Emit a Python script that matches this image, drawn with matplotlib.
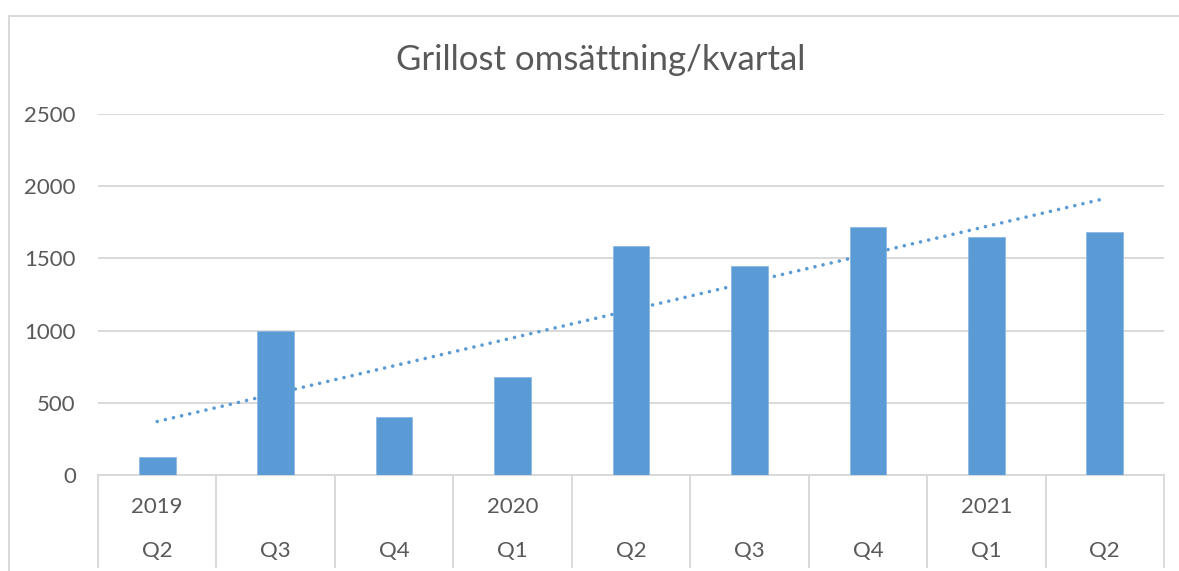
import numpy as np
import matplotlib
matplotlib.use("Agg")
import matplotlib.pyplot as plt
import matplotlib.transforms as mtrans
from matplotlib.patches import Rectangle

# data
kvartal = ['Q2', 'Q3', 'Q4', 'Q1', 'Q2', 'Q3', 'Q4', 'Q1', 'Q2']
ar = ['2019', '', '', '2020', '', '', '', '2021', '']
omsattning = [125, 995, 402, 681, 1588, 1445, 1715, 1650, 1681]

blue = '#5B9BD5'
grey_text = '#595959'
grid_col = '#D9D9D9'

plt.rcParams['font.family'] = ['Lato', 'DejaVu Sans']

fig = plt.figure(figsize=(11.79, 5.71), dpi=100)
W, H = 1179, 571
ax = fig.add_axes([98 / W, 1 - 475 / H, (1164 - 98) / W, (475 - 114) / H])

x = np.arange(len(omsattning))
ax.bar(x, omsattning, width=0.31, color=blue, edgecolor='#8DB8E2', linewidth=0.6, zorder=3)

# linjär trendlinje (som i Excel)
k, m = np.polyfit(x, omsattning, 1)
ax.plot(x, k * x + m, color=blue, linewidth=2.6, linestyle=(0, (0.01, 2.3)),
        dash_capstyle='round', zorder=4)

ax.set_xlim(-0.5, len(omsattning) - 0.5)
ax.set_ylim(0, 2500)
ax.set_yticks(range(0, 2501, 500))
ax.yaxis.grid(True, color=grid_col, linewidth=1.4, zorder=0)
ax.tick_params(axis='y', length=0, pad=16, labelsize=16, labelcolor=grey_text)
ax.set_xticks([])
for s in ['top', 'right', 'left']:
    ax.spines[s].set_visible(False)
ax.spines['bottom'].set_color(grid_col)
ax.spines['bottom'].set_linewidth(1.4)

# kategoritabell under axeln
trans = mtrans.blended_transform_factory(ax.transData, ax.transAxes)
y_bot = -(567 - 475) / (475 - 114)
for b in np.arange(-0.5, len(omsattning), 1.0):
    ax.plot([b, b], [0, y_bot], transform=trans, color=grid_col, linewidth=1.4, clip_on=False)
y_ar = -(507 - 475) / (475 - 114)
y_q = -(551 - 475) / (475 - 114)
for i in x:
    if ar[i]:
        ax.text(i, y_ar, ar[i], transform=trans, ha='center', va='center',
                fontsize=16, color=grey_text)
    ax.text(i, y_q, kvartal[i], transform=trans, ha='center', va='center',
            fontsize=16, color=grey_text)

# ram runt diagrammet
fig.patches.append(Rectangle((9.5 / W, -0.1), 1.1, 1 - 15.5 / H + 0.1, transform=fig.transFigure,
                             fill=False, edgecolor=grid_col, linewidth=1.4))

fig.text(601 / W, 1 - 60 / H, 'Grillost omsättning/kvartal', ha='center', va='center',
         fontsize=25, color=grey_text)

fig.savefig('out.png', dpi=100)
